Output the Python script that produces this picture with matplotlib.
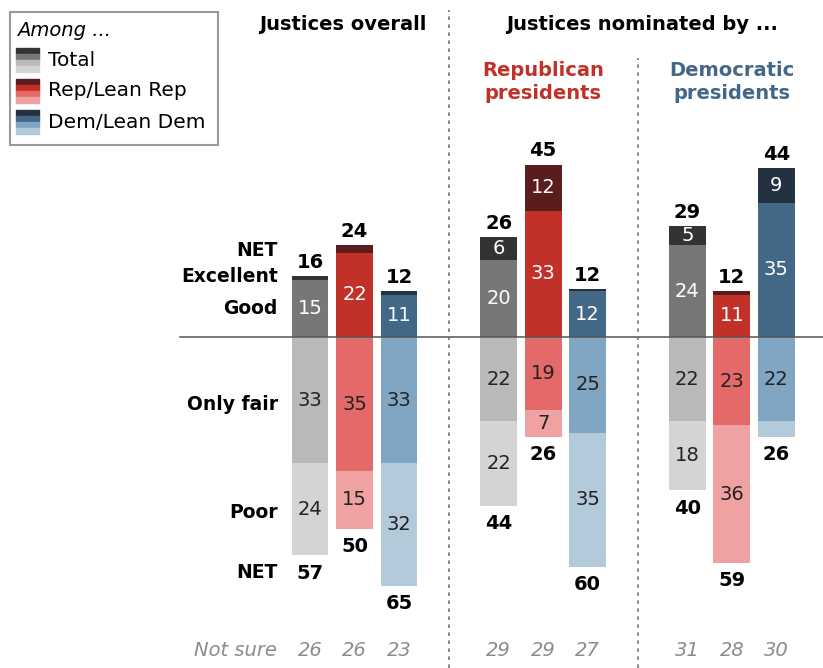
import matplotlib
matplotlib.use('Agg')
import matplotlib.pyplot as plt
from matplotlib.patches import Rectangle

W, H = 823, 668
BOLD = ['Liberation Sans Narrow', 'DejaVu Sans']
matplotlib.rcParams['font.family'] = ['DejaVu Sans']

# ── Data ──────────────────────────────────────────────────────────────────────
groups = ['Justices overall', 'Republican presidents', 'Democratic presidents']
parties = ['Total', 'Rep/Lean Rep', 'Dem/Lean Dem']

excellent = [1, 2, 1, 6, 12, 0.6, 5, 1, 9]
good = [15, 22, 11, 20, 33, 12, 24, 11, 35]
only_fair = [33, 35, 33, 22, 19, 25, 22, 23, 22]
poor = [24, 15, 32, 22, 7, 35, 18, 36, 4]
net_pos = [16, 24, 12, 26, 45, 12, 29, 12, 44]
net_neg = [57, 50, 65, 44, 26, 60, 40, 59, 26]
not_sure = [26, 26, 23, 29, 29, 27, 31, 28, 30]

colors = {
    'Total': ['#333333', '#777777', '#b9b9b9', '#d4d4d4'],
    'Rep/Lean Rep': ['#5a1c1c', '#c1312a', '#e36a69', '#f0a1a1'],
    'Dem/Lean Dem': ['#243140', '#436787', '#80a6c3', '#b3cadb'],
}
grey_txt = '#8c8c8c'

# ── Layout: one axes across the whole figure ──────────────────────────────────
fig = plt.figure(figsize=(W / 100, H / 100), dpi=100)
ax = fig.add_axes([0, 0, 1, 1])
px_x, x0 = 44.5, 310      # pixels per bar step, first bar centre
px_y, y0 = 3.83, 337      # pixels per percentage point, baseline
ax.set_xlim(-x0 / px_x, (W - x0) / px_x)
ax.set_ylim(-(H - y0) / px_y, y0 / px_y)
ax.axis('off')

gap = 4.24
xs = [g * gap + i for g in range(3) for i in range(3)]
width = 0.83


def fx(px):
    return px / W


def fy(py):
    return 1 - py / H


for k, x in enumerate(xs):
    c = colors[parties[k % 3]]
    ax.bar(x, good[k], width, bottom=0, color=c[1])
    ax.bar(x, excellent[k], width, bottom=good[k], color=c[0])
    ax.bar(x, -only_fair[k], width, bottom=0, color=c[2])
    ax.bar(x, -poor[k], width, bottom=-only_fair[k], color=c[3])

    segs = [(good[k] + excellent[k] / 2, excellent[k], 'white'),
            (good[k] / 2, good[k], 'white'),
            (-only_fair[k] / 2, only_fair[k], '#222222'),
            (-only_fair[k] - poor[k] / 2, poor[k], '#222222')]
    for yc, v, tc in segs:
        if v >= 5:
            ax.text(x, yc, f'{v:g}', ha='center', va='center', fontsize=14,
                    color=tc)

    top = good[k] + excellent[k]
    ax.annotate(str(net_pos[k]), (x, top), xytext=(0, 3), textcoords='offset points',
                ha='center', va='bottom', fontsize=14, fontweight='bold', family=BOLD)
    bot = -(only_fair[k] + poor[k])
    ax.annotate(str(net_neg[k]), (x, bot), xytext=(0, -6), textcoords='offset points',
                ha='center', va='top', fontsize=14, fontweight='bold', family=BOLD)

    fig.text(fx(x0 + px_x * x), fy(650), str(not_sure[k]), ha='center', va='center',
             fontsize=14, style='italic', color=grey_txt)

fig.text(fx(277), fy(650), 'Not sure', ha='right', va='center', fontsize=14,
         style='italic', color=grey_txt)

# baseline and group dividers
ax.plot([-x0 / px_x + 180 / px_x, (W - x0) / px_x], [0, 0], color='#555555', lw=1.1)
div1 = (xs[2] + xs[3]) / 2
div2 = (xs[5] + xs[6]) / 2
ax.plot([div1, div1], [ax.get_ylim()[0], (y0 - 10) / px_y], color='#777777', lw=1.2,
        ls=(0, (2.2, 2.6)))
ax.plot([div2, div2], [ax.get_ylim()[0], (y0 - 58) / px_y], color='#777777', lw=1.2,
        ls=(0, (2.2, 2.6)))

# row labels next to the first bar
row_labels = [('NET', 251), ('Excellent', 277), ('Good', 309), ('Only fair', 405),
              ('Poor', 513), ('NET', 573)]
for txt, py in row_labels:
    fig.text(fx(278), fy(py), txt, ha='right', va='center', fontsize=13.5,
             fontweight='bold', family=BOLD)

# headers
fig.text(fx(343), fy(25), 'Justices overall', ha='center', va='center', fontsize=14,
         fontweight='bold', family=BOLD)
fig.text(fx(642), fy(25), 'Justices nominated by ...', ha='center', va='center',
         fontsize=14, fontweight='bold', family=BOLD)
fig.text(fx(x0 + px_x * xs[4]), fy(82), 'Republican\npresidents', ha='center',
         va='center', fontsize=14, fontweight='bold', family=BOLD, color='#c1312a',
         linespacing=1.25)
fig.text(fx(x0 + px_x * xs[7]), fy(82), 'Democratic\npresidents', ha='center',
         va='center', fontsize=14, fontweight='bold', family=BOLD, color='#436787',
         linespacing=1.25)

# legend box
fig.patches.append(Rectangle((fx(10), fy(145)), fx(208), 133 / H, transform=fig.transFigure,
                             fill=False, edgecolor='#999999', lw=1.5))
fig.text(fx(17), fy(30), 'Among ...', ha='left', va='center', fontsize=14,
         style='italic')
for j, (name, py) in enumerate(zip(parties, [60, 91, 122])):
    for s, col in enumerate(colors[name]):
        top_px = py - 11.5 + s * 5.75
        fig.patches.append(Rectangle((fx(16), fy(top_px + 5.75)), fx(23), 5.75 / H,
                                     transform=fig.transFigure, color=col))
    fig.text(fx(48), fy(py), name, ha='left', va='center', fontsize=14.5)

plt.savefig('out.png', dpi=100)
